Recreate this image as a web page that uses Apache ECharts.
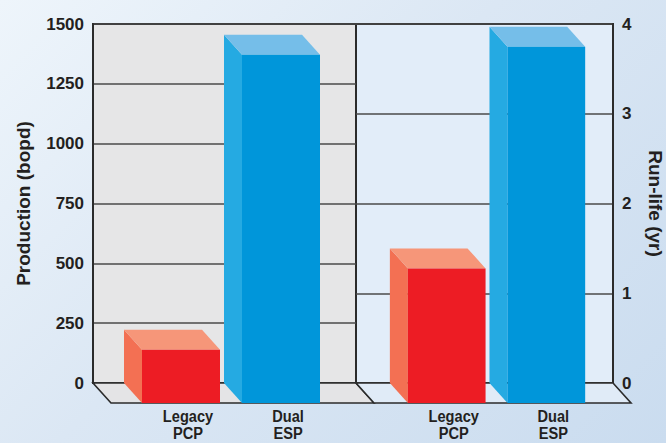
<!DOCTYPE html>
<html>
<head>
<meta charset="utf-8">
<script src="https://cdn.jsdelivr.net/npm/echarts@6/dist/echarts.min.js"></script>
<style>
  html, body { margin: 0; padding: 0; }
  body { width: 666px; height: 443px; overflow: hidden;
         background: linear-gradient(135deg, #eef5fb 0%, #dbe7f4 45%, #cadcef 100%); }
  #chart { width: 666px; height: 443px; }
</style>
</head>
<body>
<div id="chart"></div>
<script>
// Pump comparison: production on the left panel, run-life on the right panel
const categories = ['Legacy\nPCP', 'Dual\nESP'];
const production = [222, 1455];      // bopd
const runLife = [1.5, 3.97];         // years
const productionTicks = { min: 0, max: 1500, interval: 250 };
const runLifeTicks = { min: 0, max: 4, interval: 1 };

const FONT = '"Liberation Sans", Arial, sans-serif';
const INK = '#231f20';
const EDGE = '#2b2b2b';
const DEPTH = [18, 20];              // oblique offset of the front plane
const BAR_W = 0.78;                  // bar width in category units

const palettes = [
  { front: '#ed1c24', side: '#f37053', top: '#f69679' },
  { front: '#0096da', side: '#25aae2', top: '#75bee9' }
];

function barRenderer(params, api) {
  const idx = api.value(0);
  const val = api.value(1);
  const top = api.coord([idx, val]);
  const base = api.coord([idx, 0]);
  const w = api.size([BAR_W, 0])[0];
  const xl = top[0] - w / 2, xr = top[0] + w / 2;
  const yt = top[1], yb = base[1];
  const dx = DEPTH[0], dy = DEPTH[1];
  const c = palettes[idx];
  const labelX = xl + dx + w / 2 + 7;
  const labelY = yb + dy + 5;
  return {
    type: 'group',
    children: [
      { type: 'polygon', shape: { points: [[xl, yt], [xl + dx, yt + dy], [xl + dx, yb + dy], [xl, yb]] },
        style: { fill: c.side } },
      { type: 'polygon', shape: { points: [[xl, yt], [xr, yt], [xr + dx, yt + dy], [xl + dx, yt + dy]] },
        style: { fill: c.top } },
      { type: 'rect', shape: { x: xl + dx, y: yt + dy, width: w, height: yb - yt },
        style: { fill: c.front } },
      { type: 'text', x: labelX, y: labelY, scaleX: 0.86, scaleY: 1,
        style: {
          text: categories[idx], x: 0, y: 0,
          align: 'center', verticalAlign: 'top', fill: INK,
          fontFamily: FONT, fontWeight: 'bold', fontSize: 17, lineHeight: 17 } }
    ]
  };
}

function floorRenderer(fill) {
  return function (params) {
    const cs = params.coordSys;
    const yb = cs.y + cs.height;
    const dx = DEPTH[0], dy = DEPTH[1];
    return {
      type: 'polygon',
      shape: { points: [[cs.x, yb], [cs.x + cs.width, yb], [cs.x + cs.width + dx, yb + dy], [cs.x + dx, yb + dy]] },
      style: { fill: fill, stroke: EDGE, lineWidth: 1.6 }
    };
  };
}

const valueLabel = { color: INK, fontFamily: FONT, fontWeight: 'bold', fontSize: 17, margin: 9,
                     formatter: v => String(v) };
const axisName = { color: INK, fontFamily: FONT, fontWeight: 'bold', fontSize: 19 };
const gridLine = { show: true, lineStyle: { color: '#4a4a4a', width: 1.5 } };
const axisLine = { show: true, onZero: false, lineStyle: { color: EDGE, width: 2 } };
const hiddenX = { show: false, splitLine: { show: false }, axisLine: { show: false, onZero: false },
                  axisTick: { show: false }, axisLabel: { show: false } };

const chart = echarts.init(document.getElementById('chart'), null, { renderer: 'svg' });
chart.setOption({
  animation: false,
  backgroundColor: 'transparent',
  grid: [
    { left: 93, top: 24, width: 263, height: 359, show: true,
      backgroundColor: '#e6e6e7', borderColor: EDGE, borderWidth: 2 },
    { left: 356, top: 24, width: 258, height: 359, show: true,
      backgroundColor: '#e2edf9', borderColor: EDGE, borderWidth: 2 }
  ],
  xAxis: [
    { gridIndex: 0, type: 'value', min: -0.70, max: 1.93, ...hiddenX },
    { gridIndex: 1, type: 'value', min: -0.73, max: 1.85, ...hiddenX }
  ],
  yAxis: [
    { gridIndex: 0, type: 'value', ...productionTicks, position: 'left',
      name: 'Production (bopd)', nameLocation: 'middle', nameGap: 60, nameTextStyle: axisName,
      axisLine: axisLine, axisTick: { show: false }, axisLabel: valueLabel, splitLine: gridLine },
    { gridIndex: 1, type: 'value', ...runLifeTicks, position: 'right',
      name: 'Run-life (yr)', nameLocation: 'middle', nameGap: 33, nameRotate: -90, nameTextStyle: axisName,
      axisLine: axisLine, axisTick: { show: false }, axisLabel: valueLabel, splitLine: gridLine }
  ],
  series: [
    { type: 'custom', xAxisIndex: 0, yAxisIndex: 0, z: 1, silent: true,
      renderItem: floorRenderer('#e4e4e6'), data: [[0, 0]] },
    { type: 'custom', xAxisIndex: 1, yAxisIndex: 1, z: 1, silent: true,
      renderItem: floorRenderer('#e0ebf7'), data: [[0, 0]] },
    { type: 'custom', name: 'Production', xAxisIndex: 0, yAxisIndex: 0, z: 3,
      renderItem: barRenderer, data: production.map((v, i) => [i, v]) },
    { type: 'custom', name: 'Run-life', xAxisIndex: 1, yAxisIndex: 1, z: 3,
      renderItem: barRenderer, data: runLife.map((v, i) => [i, v]) }
  ]
});
</script>
</body>
</html>
